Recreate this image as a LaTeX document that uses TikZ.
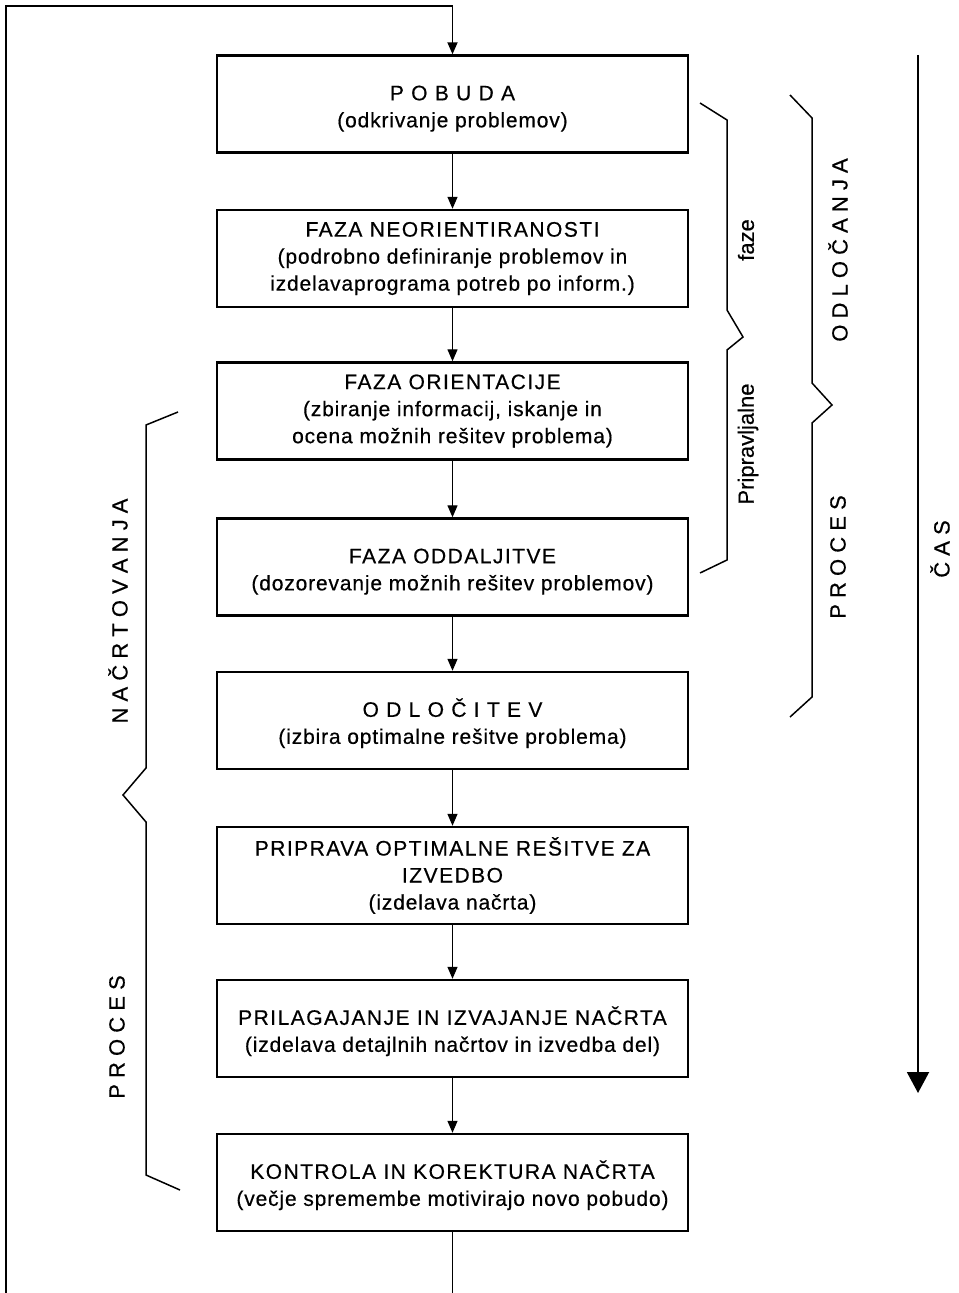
\documentclass[tikz,border=0pt]{standalone}
\usepackage{fontspec}
\setmainfont[FakeBold=0.5]{Liberation Sans}
\newfontfamily\capsf[LetterSpace=7,FakeBold=0.5]{Liberation Sans}
\newfontfamily\lowf[LetterSpace=4,FakeBold=0.5]{Liberation Sans}
\usetikzlibrary{arrows.meta}
\begin{document}
\begin{tikzpicture}[x=0.5pt,y=-0.5pt,
  box/.style={draw, line width=1.2pt, minimum width=235.5pt, minimum height=48.5pt, inner sep=0pt, align=center, font=\fontsize{10.5}{13.5}\selectfont},
  conn/.style={line width=0.65pt, -{Triangle[width=5pt,length=6pt]}},
  loopline/.style={line width=0.9pt},
  brace/.style={line width=0.75pt, line join=miter},
  vlab/.style={rotate=90, font=\fontsize{11}{13}\selectfont, inner sep=0pt}]
\useasboundingbox (0,0) rectangle (958,1293);

\node[box] (b1) at (452.5,104) {\rule{0pt}{12pt}{\capsf P O B U D A}\\{\lowf (odkrivanje problemov)}};
\node[box] (b2) at (452.5,258.5) {{\capsf FAZA NEORIENTIRANOSTI}\\{\lowf (podrobno definiranje problemov in}\\{\lowf izdelavaprograma potreb po inform.)}};
\node[box] (b3) at (452.5,411) {{\capsf FAZA ORIENTACIJE}\\{\lowf (zbiranje informacij, iskanje in}\\{\lowf ocena možnih rešitev problema)}};
\node[box] (b4) at (452.5,567) {\rule{0pt}{12pt}{\capsf FAZA ODDALJITVE}\\{\lowf (dozorevanje možnih rešitev problemov)}};
\node[box] (b5) at (452.5,720.5) {\rule{0pt}{12pt}{\capsf O D L O Č I T E V}\\{\lowf (izbira optimalne rešitve problema)}};
\node[box] (b6) at (452.5,875.5) {{\capsf PRIPRAVA OPTIMALNE REŠITVE ZA}\\{\capsf IZVEDBO}\\{\lowf (izdelava načrta)}};
\node[box] (b7) at (452.5,1028.5) {\rule{0pt}{12pt}{\capsf PRILAGAJANJE IN IZVAJANJE NAČRTA}\\{\lowf (izdelava detajlnih načrtov in izvedba del)}};
\node[box] (b8) at (452.5,1182.5) {\rule{0pt}{12pt}{\capsf KONTROLA IN KOREKTURA NAČRTA}\\{\lowf (večje spremembe motivirajo novo pobudo)}};

\draw[conn] (b1) -- (b2);
\draw[conn] (b2) -- (b3);
\draw[conn] (b3) -- (b4);
\draw[conn] (b4) -- (b5);
\draw[conn] (b5) -- (b6);
\draw[conn] (b6) -- (b7);
\draw[conn] (b7) -- (b8);

\coordinate (lb) at (6,1293);
\coordinate (lt) at (6,6);
\coordinate (rt) at (452.5,6);
\coordinate (bb) at (452.5,1293);
\draw[loopline] (b8) -- (bb);
\draw[loopline, -{Triangle[width=5pt,length=6pt]}] (lb) -- (lt) -- (rt) -- (b1);

\coordinate (ct) at (918,55);
\coordinate (cb) at (918,1093);
\draw[line width=1pt, -{Triangle[width=11pt,length=10.5pt]}] (ct) -- (cb);

\draw[brace] (700,103) -- (727,120) -- (727,310) -- (743,337) -- (727,350) -- (727,560) -- (700,573);
\draw[brace] (790,95) -- (812,118) -- (812,383) -- (832,405) -- (812,423) -- (812,697) -- (790,717);
\draw[brace] (178,412) -- (146,425) -- (146,768) -- (123,795) -- (146,822) -- (146,1175) -- (180,1190);

\node[vlab] (faze) at (746,240) {faze};
\node[vlab] (prip) at (748,444) {Pripravljalne};
\node[vlab] (odl) at (838,250) {O D L O Č A N J A};
\node[vlab] (proc1) at (838,557) {P R O C E S};
\node[vlab] (cas) at (940,549) {Č A S};
\node[vlab] (nac) at (118,611) {N A Č R T O V A N J A};
\node[vlab] (proc2) at (117,1037) {P R O C E S};
\end{tikzpicture}
\end{document}
